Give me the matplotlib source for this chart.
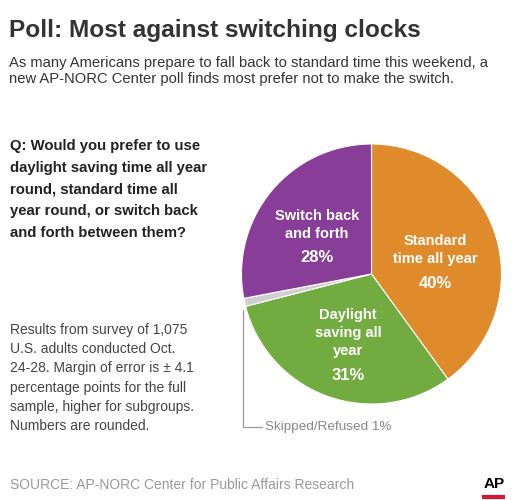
#!/usr/bin/env python3
# -*- coding: utf-8 -*-
"""Poll: Most against switching clocks — AP-NORC pie."""
import matplotlib
matplotlib.use("Agg")
import matplotlib.pyplot as plt

# ------- data -------
LABELS = ["Standard\ntime all year", "Daylight\nsaving all\nyear",
          "Skipped/Refused", "Switch back\nand forth"]
VALUES = [40, 31, 1, 28]
COLORS = ["#E08B2B", "#72AC40", "#CFCFCF", "#883E98"]

TITLE = "Poll: Most against switching clocks"
SUB = ("As many Americans prepare to fall back to standard time this weekend, a\n"
       "new AP-NORC Center poll finds most prefer not to make the switch.")
QUESTION = ["Q: Would you prefer to use", "daylight saving time all year",
            "round, standard time all", "year round, or switch back",
            "and forth between them?"]
NOTES = ["Results from survey of 1,075", "U.S. adults conducted Oct.",
         "24-28. Margin of error is \u00b1 4.1", "percentage points for the full",
         "sample, higher for subgroups.", "Numbers are rounded."]
SOURCE = "SOURCE: AP-NORC Center for Public Affairs Research"

W, H = 527, 500
plt.rcParams["font.family"] = ["Liberation Sans", "DejaVu Sans"]


def Y(y):
    # pixel row (from top) -> data y
    return H - y


fig = plt.figure(figsize=(W / 100, H / 100), dpi=100)
ax = fig.add_axes([0, 0, 1, 1])

cx, cy, r = 371.5, Y(274), 130
ax.pie(VALUES, colors=COLORS, startangle=90, counterclock=False,
       center=(cx, cy), radius=r,
       wedgeprops=dict(edgecolor="white", linewidth=0.8))
ax.set_xlim(0, W)
ax.set_ylim(0, H)
ax.set_aspect("equal")
ax.axis("off")

# labels inside slices
lab = dict(color="white", fontweight="bold", ha="center", va="center")
ax.text(435, Y(250), LABELS[0], fontsize=10.5, linespacing=1.35, **lab)
ax.text(435, Y(283), f"{VALUES[0]}%", fontsize=12, **lab)
ax.text(348, Y(333), LABELS[1], fontsize=10.5, linespacing=1.35, **lab)
ax.text(348, Y(376), f"{VALUES[1]}%", fontsize=12, **lab)
ax.text(317, Y(225), LABELS[3], fontsize=10.5, linespacing=1.35, **lab)
ax.text(317, Y(258), f"{VALUES[3]}%", fontsize=12, **lab)

# leader for skipped
ax.plot([243, 243, 262], [Y(310), Y(427), Y(427)], color="#999999", lw=0.9)
ax.text(265, Y(427), f"{LABELS[2]} {VALUES[2]}%", fontsize=9.7,
        color="#888888", ha="left", va="center")

# header
ax.text(9, Y(30), TITLE, fontsize=17.6, fontweight="bold", color="#333333",
        ha="left", va="center")
ax.text(9, Y(71), SUB, fontsize=10.6, color="#333333", ha="left",
        va="center", linespacing=1.2)

for i, s in enumerate(QUESTION):
    ax.text(10, Y(146 + 21.8 * i), s, fontsize=10.7, fontweight="bold",
            color="#222222", ha="left", va="center")
for i, s in enumerate(NOTES):
    ax.text(10, Y(330 + 19.2 * i), s, fontsize=10, color="#444444",
            ha="left", va="center")

ax.text(10, Y(485), SOURCE, fontsize=10, color="#999999", ha="left",
        va="center")
ax.text(494, Y(484), "AP", fontsize=11, fontweight="bold", color="black",
        ha="center", va="center")
ax.plot([482, 505], [Y(497), Y(497)], color="#D7192F", lw=3,
        solid_capstyle="butt")

fig.savefig("out.png", dpi=100)
